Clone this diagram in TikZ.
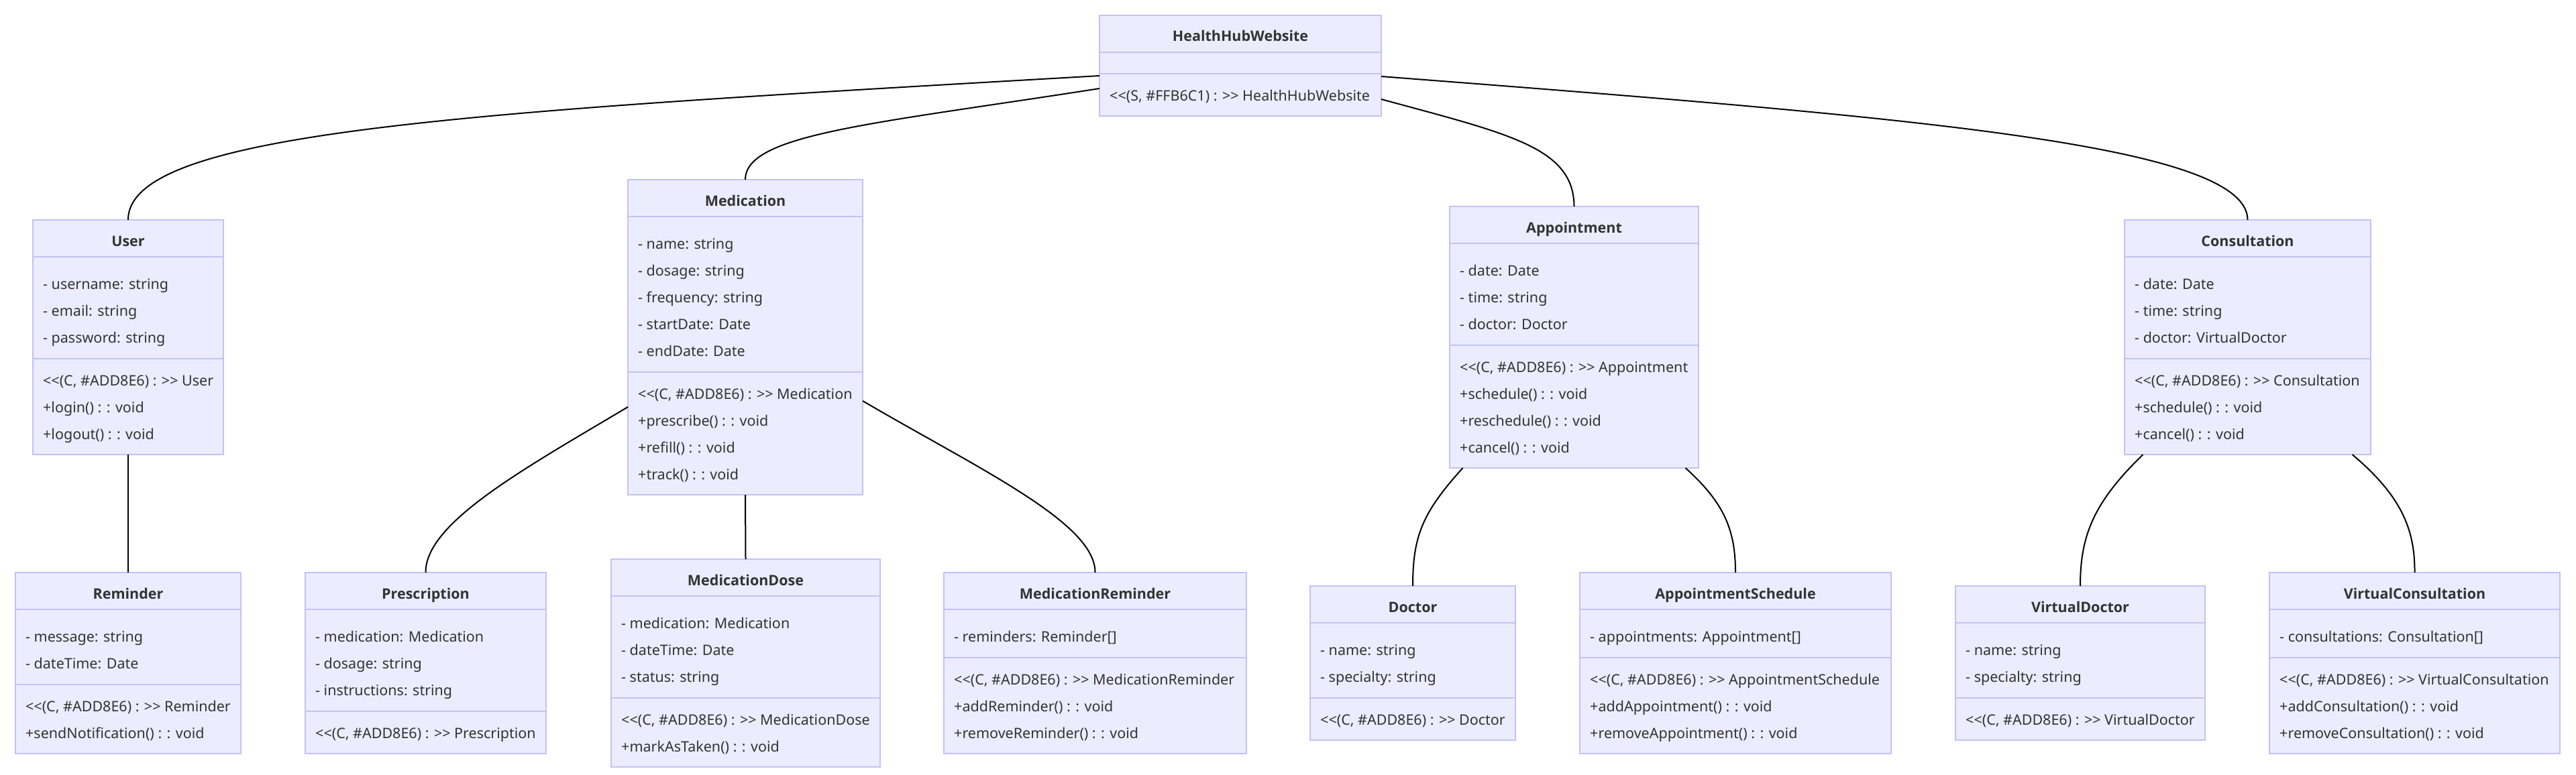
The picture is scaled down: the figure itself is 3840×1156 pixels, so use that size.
\documentclass[tikz,border=0pt]{standalone}
\usepackage{fontspec}
\setmainfont{Noto Sans}[Ligatures=TeXOff]
\newfontfamily\titlefont{Open Sans}[Ligatures=TeXOff]
\usetikzlibrary{calc}
\definecolor{boxfill}{HTML}{ECECFF}
\definecolor{boxline}{HTML}{C2C2F6}
\definecolor{txt}{HTML}{333333}
\tikzset{
  classbox/.style={draw=boxline, fill=boxfill, line width=2pt, inner sep=0pt, outer sep=0pt, rectangle},
  divider/.style={draw=boxline, line width=2pt},
  titletext/.style={anchor=base, inner sep=0pt, text=txt, font=\titlefont\fontsize{21.5}{26}\selectfont\bfseries},
  linetext/.style={anchor=base west, inner sep=0pt, text=txt, font=\fontsize{21.5}{26}\selectfont},
  conn/.style={draw=black, line width=2pt}
}
% #1 name, #2 left, #3 right, #4 top, #5 n attrs, #6 n methods, #7 title, #8 attrs, #9 methods
\newcommand\umlclass[9]{%
  \pgfmathsetmacro\clsA{#4+55}%
  \pgfmathsetmacro\clsB{\clsA+32+40*#5}%
  \pgfmathsetmacro\clsC{\clsB+23+40*#6}%
  \pgfmathsetmacro\clsW{#3-#2}%
  \pgfmathsetmacro\clsH{\clsC-#4}%
  \node[classbox, minimum width=\clsW pt, minimum height=\clsH pt, anchor=north west] (#1) at (#2,#4) {};
  \draw[divider] (#2,\clsA) -- (#3,\clsA);
  \draw[divider] (#2,\clsB) -- (#3,\clsB);
  \node[titletext] (#1-title) at ({(#2+#3)/2},{#4+39}) {#7};
  \ifnum#5>0
    \foreach \t [count=\i] in {#8} {\node[linetext] (#1-a\i) at ({#2+15},{\clsA+8+40*\i}) {\t};}
  \fi
  \ifnum#6>0
    \foreach \t [count=\i] in {#9} {\node[linetext] (#1-m\i) at ({#2+15},{\clsB+40*\i}) {\t};}
  \fi
}
\begin{document}
\begin{tikzpicture}[x=1pt,y=-1pt]
\useasboundingbox (0,0) rectangle (3840,1156);
\fill[white] (0,0) rectangle (3840,1156);

% top
\umlclass{hh}{1639}{2059}{23}{0}{1}{HealthHubWebsite}{}{{<<(S, \#FFB6C1) : >> HealthHubWebsite}}
\umlclass{user}{49}{333}{328}{3}{3}{User}
  {{- username: string},{- email: string},{- password: string}}
  {{<<(C, \#ADD8E6) : >> User},{+login() : : void},{+logout() : : void}}
\umlclass{med}{936}{1286}{268}{5}{4}{Medication}
  {{- name: string},{- dosage: string},{- frequency: string},{- startDate: Date},{- endDate: Date}}
  {{<<(C, \#ADD8E6) : >> Medication},{+prescribe() : : void},{+refill() : : void},{+track() : : void}}
\umlclass{appt}{2161}{2532}{308}{3}{4}{Appointment}
  {{- date: Date},{- time: string},{- doctor: Doctor}}
  {{<<(C, \#ADD8E6) : >> Appointment},{+schedule() : : void},{+reschedule() : : void},{+cancel() : : void}}
\umlclass{cons}{3167}{3534}{328}{3}{3}{Consultation}
  {{- date: Date},{- time: string},{- doctor: VirtualDoctor}}
  {{<<(C, \#ADD8E6) : >> Consultation},{+schedule() : : void},{+cancel() : : void}}

% bottom
\umlclass{rem}{23}{359}{854}{2}{2}{Reminder}
  {{- message: string},{- dateTime: Date}}
  {{<<(C, \#ADD8E6) : >> Reminder},{+sendNotification() : : void}}
\umlclass{pres}{455}{814}{854}{3}{1}{Prescription}
  {{- medication: Medication},{- dosage: string},{- instructions: string}}
  {{<<(C, \#ADD8E6) : >> Prescription}}
\umlclass{dose}{911}{1312}{834}{3}{2}{MedicationDose}
  {{- medication: Medication},{- dateTime: Date},{- status: string}}
  {{<<(C, \#ADD8E6) : >> MedicationDose},{+markAsTaken() : : void}}
\umlclass{mrem}{1407}{1858}{854}{1}{3}{MedicationReminder}
  {{- reminders: Reminder[]}}
  {{<<(C, \#ADD8E6) : >> MedicationReminder},{+addReminder() : : void},{+removeReminder() : : void}}
\umlclass{doc}{1953}{2259}{874}{2}{1}{Doctor}
  {{- name: string},{- specialty: string}}
  {{<<(C, \#ADD8E6) : >> Doctor}}
\umlclass{asch}{2355}{2819}{854}{1}{3}{AppointmentSchedule}
  {{- appointments: Appointment[]}}
  {{<<(C, \#ADD8E6) : >> AppointmentSchedule},{+addAppointment() : : void},{+removeAppointment() : : void}}
\umlclass{vdoc}{2915}{3287}{874}{2}{1}{VirtualDoctor}
  {{- name: string},{- specialty: string}}
  {{<<(C, \#ADD8E6) : >> VirtualDoctor}}
\umlclass{vcons}{3383}{3816}{854}{1}{3}{VirtualConsultation}
  {{- consultations: Consultation[]}}
  {{<<(C, \#ADD8E6) : >> VirtualConsultation},{+addConsultation() : : void},{+removeConsultation() : : void}}

% connectors
\draw[conn] ([yshift=-15pt]hh.west) .. controls (700,167) and (191,195) .. (user.north);
\draw[conn] ([yshift=-34pt]hh.west) .. controls (1300,185) and (1111,200) .. (med.north);
\draw[conn] ([yshift=-50pt]hh.east) .. controls (2250,200) and (2346,220) .. (appt.north);
\draw[conn] ([yshift=-16pt]hh.east) .. controls (2850,175) and (3350,215) .. (cons.north);
\draw[conn] (user.south) -- (rem.north);
\draw[conn] ([yshift=-104pt]med.west) .. controls (780,700) and (634,780) .. (pres.north);
\draw[conn] (med.south) -- (dose.north);
\draw[conn] ([yshift=-95pt]med.east) .. controls (1460,700) and (1633,780) .. (mrem.north);
\draw[conn] ([xshift=-166pt]appt.south) .. controls (2120,765) and (2106,800) .. (doc.north);
\draw[conn] ([xshift=166pt]appt.south) .. controls (2570,750) and (2587,790) .. (asch.north);
\draw[conn] ([xshift=-156pt]cons.south) .. controls (3120,750) and (3101,800) .. (vdoc.north);
\draw[conn] ([xshift=156pt]cons.south) .. controls (3580,740) and (3600,790) .. (vcons.north);
\end{tikzpicture}
\end{document}
